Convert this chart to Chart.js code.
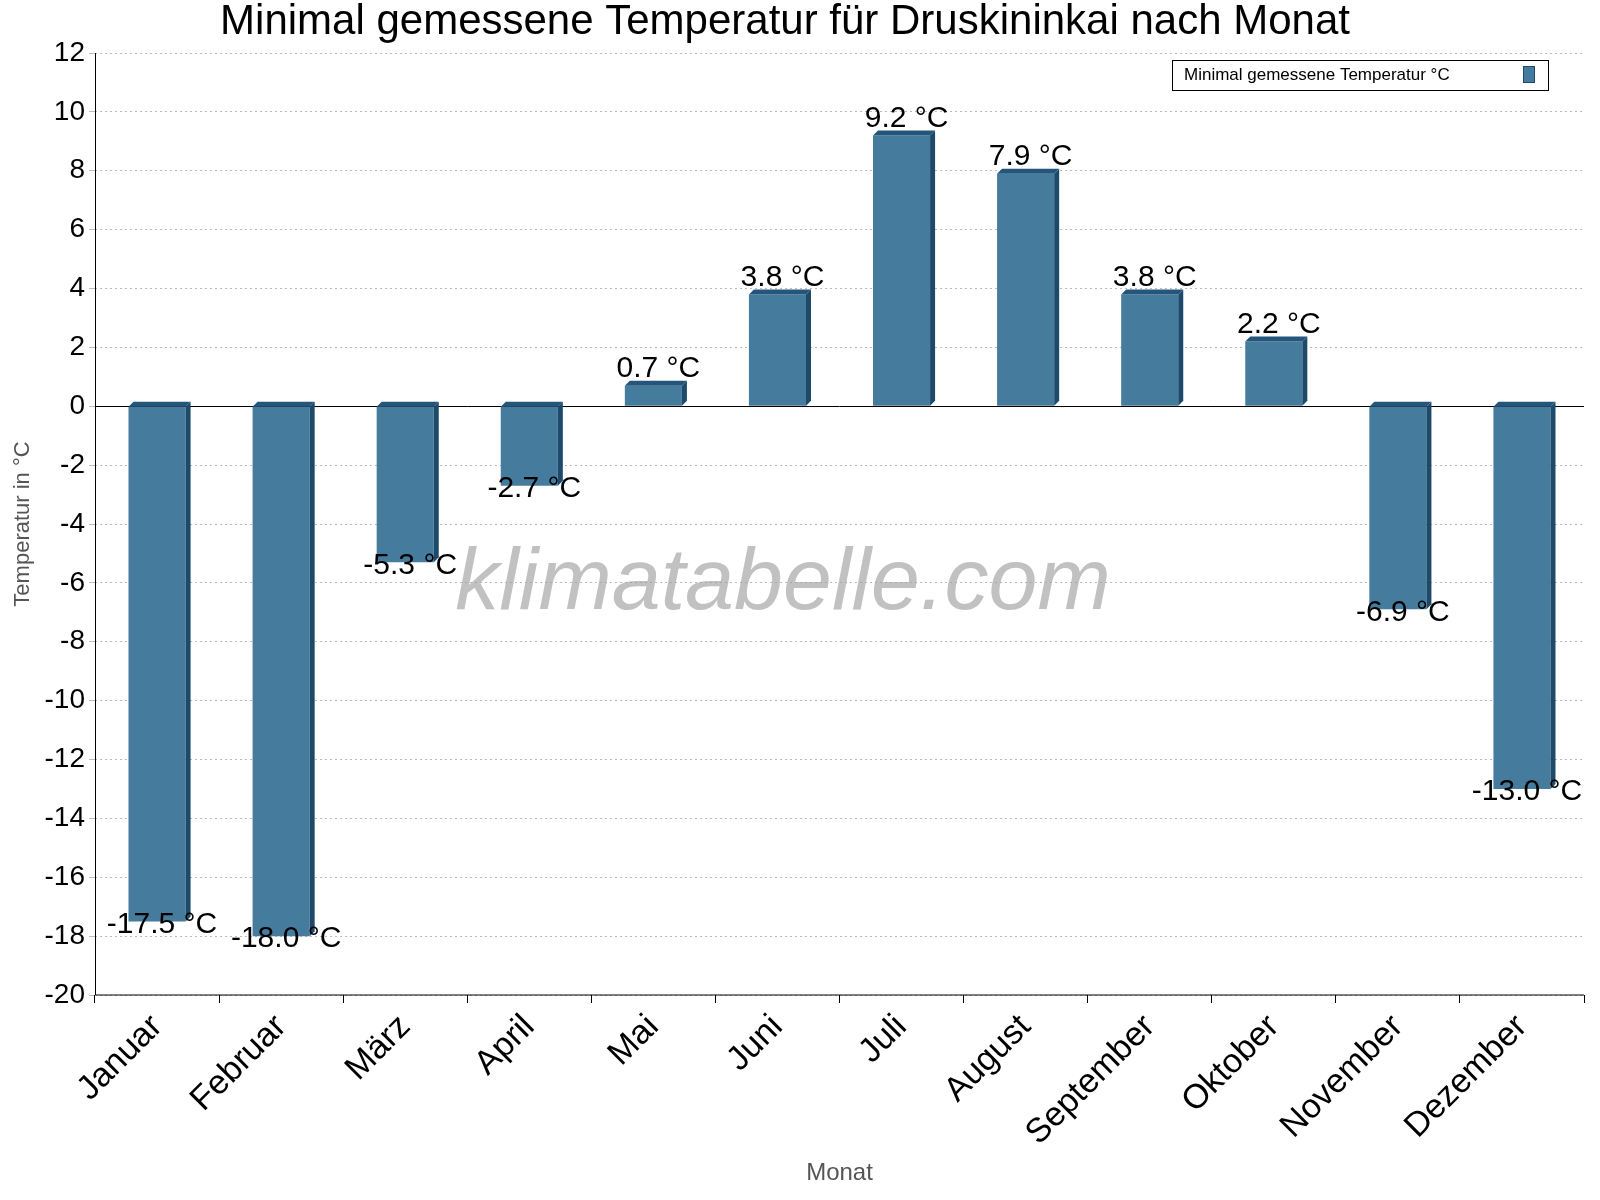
<!DOCTYPE html>
<html><head><meta charset="utf-8">
<script src="https://cdn.jsdelivr.net/npm/chart.js@4/dist/chart.umd.min.js"></script>
<style>html,body{margin:0;padding:0;background:#fff}#w{width:1600px;height:1200px}</style>
</head><body><div id="w"><canvas id="c" width="1600" height="1200"></canvas></div>
<script>
const months = ["Januar","Februar","März","April","Mai","Juni","Juli","August","September","Oktober","November","Dezember"];
const minTemps = [-17.5,-18.0,-5.3,-2.7,0.7,3.8,9.2,7.9,3.8,2.2,-6.9,-13.0];
const seriesName = "Minimal gemessene Temperatur °C";
const chartTitle = "Minimal gemessene Temperatur für Druskininkai nach Monat";
const FONT = "Arial, 'Liberation Sans', sans-serif";

const deco = {
  id:'deco',
  beforeDatasetsDraw(chart){
    const ctx=chart.ctx, a=chart.chartArea, y=chart.scales.y;
    ctx.save();
    ctx.font="italic 88px "+FONT; ctx.fillStyle="rgba(160,160,160,0.65)";
    ctx.textAlign="center"; ctx.textBaseline="middle";
    ctx.fillText("klimatabelle.com",783,585);
    ctx.strokeStyle="#000"; ctx.lineWidth=1;
    const z=Math.round(y.getPixelForValue(0))+0.5;
    ctx.beginPath(); ctx.moveTo(a.left,z); ctx.lineTo(a.right,z); ctx.stroke();
    ctx.beginPath(); ctx.moveTo(Math.round(a.left)+0.5,a.top); ctx.lineTo(Math.round(a.left)+0.5,a.bottom);
    ctx.lineTo(a.right,a.bottom); ctx.stroke();
    ctx.restore();
  },
  afterDatasetsDraw(chart){
    const ctx=chart.ctx, meta=chart.getDatasetMeta(0), y=chart.scales.y;
    const d=5;
    ctx.save();
    meta.data.forEach((b,i)=>{
      const v=minTemps[i]; const w=b.width, l=b.x-w/2, r=b.x+w/2;
      const top=Math.min(b.y,b.base), bot=Math.max(b.y,b.base);
      ctx.fillStyle="#1d4a6b";
      ctx.beginPath(); ctx.moveTo(r,top); ctx.lineTo(r+d,top-d); ctx.lineTo(r+d,bot-d); ctx.lineTo(r,bot); ctx.closePath(); ctx.fill();
      ctx.fillStyle="#24557a";
      ctx.beginPath(); ctx.moveTo(l,top); ctx.lineTo(l+d,top-d); ctx.lineTo(r+d,top-d); ctx.lineTo(r,top); ctx.closePath(); ctx.fill();
      ctx.font="30px "+FONT; ctx.fillStyle="#000"; ctx.textAlign="center";
      const txt=v.toFixed(1)+" °C";
      if(v>=0){ctx.textBaseline="bottom"; ctx.fillText(txt,b.x+d,top-2);}
      else {ctx.textBaseline="top"; ctx.fillText(txt,b.x+d,bot-12);}
    });
    ctx.font="42px "+FONT; ctx.textAlign="center"; ctx.textBaseline="middle"; ctx.fillStyle="#000";
    ctx.fillText(chartTitle,785,22);
    ctx.fillStyle="#fff"; ctx.fillRect(1172,60,376,30);
    ctx.strokeStyle="#000"; ctx.lineWidth=1; ctx.strokeRect(1172.5,60.5,376,30);
    ctx.font="17px "+FONT; ctx.textAlign="left"; ctx.fillStyle="#000";
    ctx.fillText(seriesName,1184,75);
    ctx.fillStyle="#457b9d"; ctx.fillRect(1523,66,11,16);
    ctx.strokeStyle="#1d4a6b"; ctx.strokeRect(1523.5,66.5,11,16);
    ctx.restore();
  }
};

new Chart(document.getElementById('c'),{
  type:'bar',
  data:{labels:months,datasets:[{label:seriesName,data:minTemps,backgroundColor:"#457b9d",barPercentage:0.46,categoryPercentage:1}]},
  options:{
    responsive:false,animation:false,
    layout:{padding:{top:53,right:16,left:8,bottom:12}},
    plugins:{legend:{display:false},tooltip:{enabled:false}},
    scales:{
      y:{min:-20,max:12,
        ticks:{stepSize:2,color:"#000",font:{size:28,family:FONT},padding:4},
        grid:{color:"#bbb",drawTicks:true,tickLength:6},
        border:{display:false,dash:[2,3]},
        title:{display:true,text:"Temperatur in °C",color:"#555",font:{size:22,family:FONT},padding:2},
        afterFit(s){s.width=87;}
      },
      x:{
        ticks:{color:"#000",font:{size:34,family:FONT},maxRotation:45,minRotation:45,padding:4},
        grid:{display:true,drawOnChartArea:false,offset:true,color:"#000",tickLength:8},
        border:{display:false},
        title:{display:true,text:"Monat",color:"#555",font:{size:24,family:FONT},padding:0},
        afterFit(s){s.height=193;}
      }
    }
  },
  plugins:[deco]
});
</script></body></html>
